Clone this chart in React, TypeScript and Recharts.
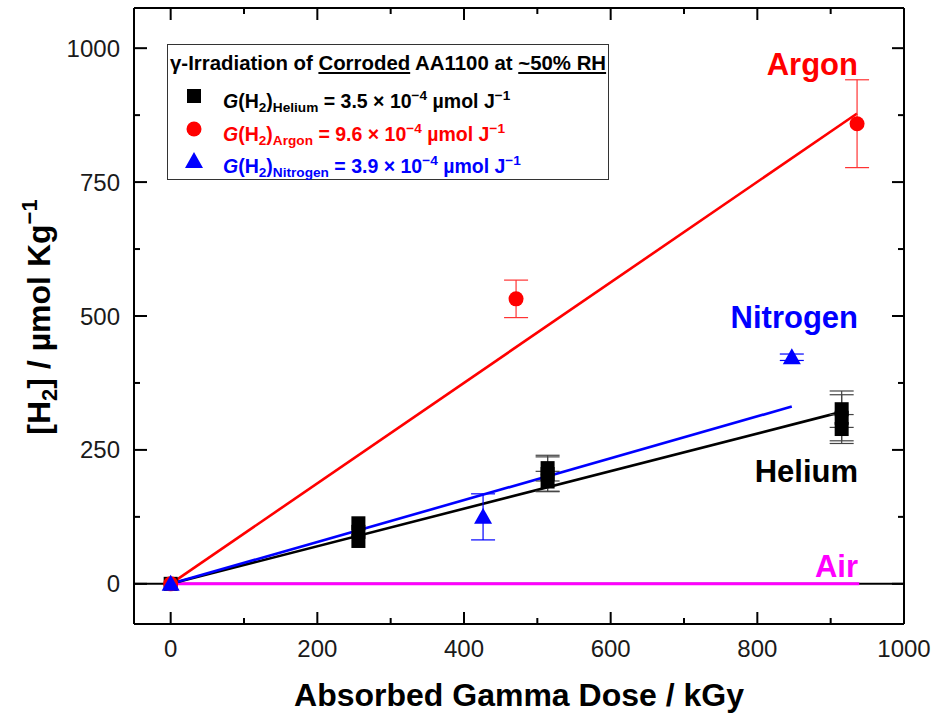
import { ComposedChart, XAxis, YAxis, Line, Scatter, ErrorBar, ReferenceLine } from 'recharts'

// Helium: three replicates per dose
const heliumDose = [0, 256, 256, 256, 514, 514, 514, 915, 915, 915]
const heliumH2 = [0, 80, 97, 113, 191, 205, 216, 289, 310, 326]
const heliumErr = [0, 0, 0, 0, 19, 32, 24, 27, 43, 34]

const argonDose = [0, 471, 936]
const argonH2 = [0, 532, 859]
const argonErr = [0, 35, 82]

const nitrogenDose = [0, 426, 847]
const nitrogenH2 = [0, 125, 423]
const nitrogenErr = [0, 43, 6]

// linear fits
const heliumFitDose = [0, 915]
const heliumFitH2 = [0, 321]
const argonFitDose = [0, 936]
const argonFitH2 = [0, 878]
const nitrogenFitDose = [0, 847]
const nitrogenFitH2 = [0, 331]
const airFitDose = [0, 939]
const airFitH2 = [0, 0]

const xTicks = [0, 100, 200, 300, 400, 500, 600, 700, 800, 900, 1000]
const yTicks = [0, 125, 250, 375, 500, 625, 750, 875, 1000]

const FONT = '"Liberation Sans", Arial, sans-serif'

const pts = (xs: number[], ys: number[], es?: number[]) =>
  xs.map((x, i) => ({ x, y: ys[i], err: es ? es[i] : 0 }))

const BottomTick = ({ x, y, payload }: any) => {
  const major = payload.value % 200 === 0
  return (
    <g>
      <line x1={x} x2={x} y1={y} y2={y - (major ? 12 : 6)} stroke="#000" strokeWidth={2} />
      {major && (
        <text x={x} y={y + 33} textAnchor="middle" fontSize={24} fontFamily={FONT} fill="#1a1a1a">
          {payload.value}
        </text>
      )}
    </g>
  )
}

const TopTick = ({ x, y, payload }: any) => {
  const major = payload.value % 200 === 0
  return <line x1={x} x2={x} y1={y} y2={y + (major ? 12 : 6)} stroke="#000" strokeWidth={2} />
}

const LeftTick = ({ x, y, payload }: any) => {
  const major = payload.value % 250 === 0
  return (
    <g>
      <line x1={x} x2={x + (major ? 13 : 6)} y1={y} y2={y} stroke="#000" strokeWidth={2} />
      {major && (
        <text x={x - 14} y={y + 8.5} textAnchor="end" fontSize={24} fontFamily={FONT} fill="#1a1a1a">
          {payload.value}
        </text>
      )}
    </g>
  )
}

const RightTick = ({ x, y, payload }: any) => {
  const major = payload.value % 250 === 0
  return <line x1={x} x2={x - (major ? 12 : 6)} y1={y} y2={y} stroke="#000" strokeWidth={2} />
}

const Square = ({ cx, cy }: any) => <rect x={cx - 7} y={cy - 7} width={14} height={14} fill="#000" />
const Dot = ({ cx, cy }: any) => <circle cx={cx} cy={cy} r={7.5} fill="#ff0000" />
const Tri = ({ cx, cy }: any) => (
  <path d={`M${cx},${cy - 9}L${cx + 9},${cy + 7}L${cx - 9},${cy + 7}Z`} fill="#0000ff" />
)

const sub = { fontSize: '0.7em', verticalAlign: '-0.3em' }
const sup = { fontSize: '0.7em', verticalAlign: '0.55em' }

function LegendBox() {
  const row = (top: number, color: string, marker: any, gas: string, val: string) => (
    <div style={{ position: 'absolute', left: 0, top, height: 30, width: '100%', color }}>
      <svg width={40} height={30} style={{ position: 'absolute', left: 8, top: 0 }}>{marker}</svg>
      <div style={{ position: 'absolute', left: 55, top: 0, lineHeight: '30px', fontSize: 19.5, whiteSpace: 'nowrap' }}>
        <i>G</i>(H<span style={sub}>2</span>)<span style={sub}>{gas}</span> = {val} × 10<span style={sup}>−4</span> µmol J<span style={sup}>−1</span>
      </div>
    </div>
  )
  return (
    <div
      style={{
        position: 'absolute', left: 167, top: 44, width: 442, height: 136, boxSizing: 'border-box',
        border: '1px solid #333', background: '#fff', fontFamily: FONT, fontWeight: 'bold',
      }}
    >
      <div style={{ position: 'absolute', left: 2, top: 3, lineHeight: '30px', fontSize: 20.4, whiteSpace: 'nowrap', color: '#000' }}>
        γ-Irradiation of <u>Corroded</u> AA1100 at <u>~50% RH</u>
      </div>
      {row(36, '#000', <rect x={11} y={8} width={14} height={14} fill="#000" />, 'Helium', '3.5')}
      {row(69, '#ff0000', <circle cx={18} cy={15} r={7.5} fill="#ff0000" />, 'Argon', '9.6')}
      {row(101, '#0000ff', <path d="M18,6L27,22L9,22Z" fill="#0000ff" />, 'Nitrogen', '3.9')}
    </div>
  )
}

export default function App() {
  return (
    <div style={{ position: 'absolute', left: 0, top: 0, width: 934, height: 714, background: '#fff' }}>
      <ComposedChart width={934} height={714} margin={{ top: 7, right: 29, bottom: 89, left: 133 }}>
        <XAxis xAxisId={0} dataKey="x" type="number" domain={[-50, 1000]} ticks={xTicks} allowDataOverflow
          height={1} tickSize={0} tickMargin={0} tickLine={false} tick={<BottomTick />}
          axisLine={{ stroke: '#000', strokeWidth: 2 }} interval={0} />
        <XAxis xAxisId="top" orientation="top" dataKey="x" type="number" domain={[-50, 1000]} ticks={xTicks} allowDataOverflow
          height={1} tickSize={0} tickMargin={0} tickLine={false} tick={<TopTick />}
          axisLine={{ stroke: '#000', strokeWidth: 2 }} interval={0} />
        <YAxis yAxisId={0} dataKey="y" type="number" domain={[-75, 1075]} ticks={yTicks} allowDataOverflow
          width={1} tickSize={0} tickMargin={0} tickLine={false} tick={<LeftTick />}
          axisLine={{ stroke: '#000', strokeWidth: 2 }} interval={0} />
        <YAxis yAxisId="right" orientation="right" dataKey="y" type="number" domain={[-75, 1075]} ticks={yTicks} allowDataOverflow
          width={1} tickSize={0} tickMargin={0} tickLine={false} tick={<RightTick />}
          axisLine={{ stroke: '#000', strokeWidth: 2 }} interval={0} />

        <ReferenceLine y={0} stroke="#000" strokeWidth={2} />

        <Line data={pts(airFitDose, airFitH2)} dataKey="y" stroke="#ff00ff" strokeWidth={3} dot={false} activeDot={false} isAnimationActive={false} />
        <Line data={pts(argonFitDose, argonFitH2)} dataKey="y" stroke="#ff0000" strokeWidth={2.6} dot={false} activeDot={false} isAnimationActive={false} />
        <Line data={pts(heliumFitDose, heliumFitH2)} dataKey="y" stroke="#000" strokeWidth={2.6} dot={false} activeDot={false} isAnimationActive={false} />
        <Line data={pts(nitrogenFitDose, nitrogenFitH2)} dataKey="y" stroke="#0000ff" strokeWidth={2.6} dot={false} activeDot={false} isAnimationActive={false} />

        <Scatter data={pts(heliumDose, heliumH2, heliumErr)} dataKey="y" shape={<Square />} isAnimationActive={false}>
          <ErrorBar dataKey="err" direction="y" width={12} stroke="#444" strokeWidth={1.2} />
        </Scatter>
        <Scatter data={pts(argonDose, argonH2, argonErr)} dataKey="y" shape={<Dot />} isAnimationActive={false}>
          <ErrorBar dataKey="err" direction="y" width={12} stroke="#ff3333" strokeWidth={1.2} />
        </Scatter>
        <Scatter data={pts(nitrogenDose, nitrogenH2, nitrogenErr)} dataKey="y" shape={<Tri />} isAnimationActive={false}>
          <ErrorBar dataKey="err" direction="y" width={12} stroke="#0000ff" strokeWidth={1.2} />
        </Scatter>
      </ComposedChart>

      <svg width={934} height={714} style={{ position: 'absolute', left: 0, top: 0, pointerEvents: 'none' }}
        fontFamily={FONT} fontWeight="bold">
        <text x={858} y={75} textAnchor="end" fontSize={31} fill="#ff0000">Argon</text>
        <text x={858} y={328} textAnchor="end" fontSize={31} fill="#0000ff">Nitrogen</text>
        <text x={858} y={482} textAnchor="end" fontSize={31} fill="#000">Helium</text>
        <text x={858} y={577} textAnchor="end" fontSize={31} fill="#ff00ff">Air</text>
        <text x={519} y={706} textAnchor="middle" fontSize={32} fill="#000">Absorbed Gamma Dose / kGy</text>
        <text transform="translate(50,317) rotate(-90)" textAnchor="middle" fontSize={32} fill="#000">
          [H<tspan fontSize={22} dy={7}>2</tspan><tspan dy={-7}>] / µmol Kg</tspan>
          <tspan fontSize={22} dy={-13}>−1</tspan>
        </text>
      </svg>
      <LegendBox />
    </div>
  )
}
